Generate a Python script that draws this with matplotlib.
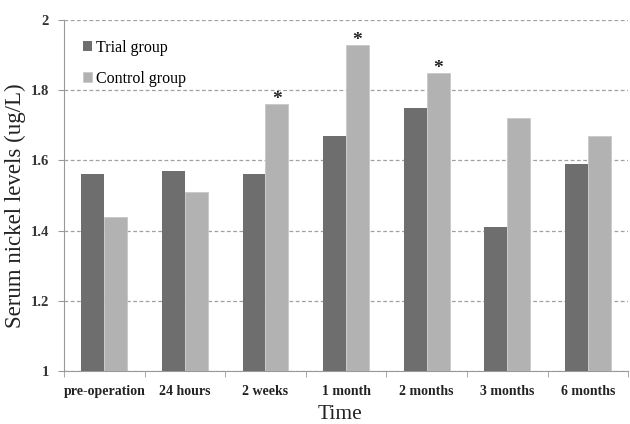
import numpy as np
import matplotlib
matplotlib.use('Agg')
import matplotlib.pyplot as plt
from matplotlib.ticker import FixedLocator

categories = ['pre-operation', '24 hours', '2 weeks', '1 month', '2 months', '3 months', '6 months']
trial = [1.56, 1.57, 1.56, 1.67, 1.75, 1.41, 1.59]
control = [1.44, 1.51, 1.76, 1.93, 1.85, 1.72, 1.67]
significant = [False, False, True, True, True, False, False]
yticks = [1, 1.2, 1.4, 1.6, 1.8, 2]
ytick_labels = ['1', '1.2', '1.4', '1.6', '1.8', '2']

plt.rcParams['font.family'] = ['Liberation Serif', 'DejaVu Serif']

fig = plt.figure(figsize=(6.3, 4.24), dpi=100)
ax = fig.add_axes([0.1016, 0.125, 0.8954, 0.828])

x = np.arange(len(categories))
w = 0.285
ax.bar(x - w / 2, trial, w, color='#6e6e6e', label='Trial group', zorder=3)
ax.bar(x + w / 2, control, w, color='#b2b2b2', edgecolor='#c8c8c8', linewidth=0.6,
       label='Control group', zorder=3)

for i, s in enumerate(significant):
    if s:
        ax.text(x[i] + w / 2, control[i] - 0.012, '*', ha='center', va='bottom',
                fontsize=14, fontweight='bold', color='#222222')

ax.set_ylim(1, 2)
ax.set_xlim(-0.5, len(categories) - 0.5)
ax.set_yticks(yticks)
ax.set_yticklabels(ytick_labels, fontsize=10.5, fontweight='bold', color='#333333')
ax.set_xticks(x)
ax.set_xticklabels(categories, fontsize=10, fontweight='bold', color='#222222')
ax.tick_params(axis='x', which='major', length=0, pad=10)
ax.xaxis.set_minor_locator(FixedLocator(np.arange(-0.5, len(categories), 1)))
ax.tick_params(axis='x', which='minor', length=4, color='#999999', direction='out')
ax.tick_params(axis='y', length=4, color='#999999', pad=7)

ax.grid(axis='y', linestyle=(0, (3, 2)), color='#a0a0a0', linewidth=0.9, zorder=0)
for side in ['top', 'right']:
    ax.spines[side].set_visible(False)
ax.spines['left'].set_color('#999999')
ax.spines['bottom'].set_color('#999999')

ax.set_ylabel('Serum nickel levels (ug/L)', fontsize=16.5, color='#222222')
ax.yaxis.set_label_coords(-0.068, 0.47)
ax.set_xlabel('Time', fontsize=15.5, color='#222222')
ax.xaxis.set_label_coords(0.489, -0.097)

ax.legend(loc='upper left', frameon=False, fontsize=11.5, handlelength=0.6,
          handleheight=0.6, handletextpad=0.25, labelspacing=0.95,
          bbox_to_anchor=(0.008, 0.985))

plt.savefig('out.png', dpi=100)
